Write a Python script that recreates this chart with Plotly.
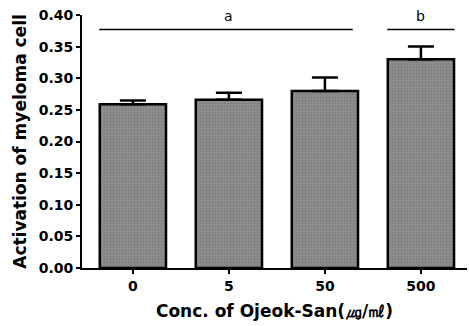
import plotly.graph_objects as go

categories = ["0", "5", "50", "500"]
values = [0.259, 0.266, 0.280, 0.330]
errors = [0.006, 0.011, 0.021, 0.020]
y_ticks = [0.00, 0.05, 0.10, 0.15, 0.20, 0.25, 0.30, 0.35, 0.40]
sig_labels = ["a", "b"]
sig_start = [0, 3]
sig_end = [2, 3]
sig_line_y = 0.377
sig_text_y = 0.399

x_idx = list(range(len(categories)))
FONT = "DejaVu Sans, Liberation Sans, Arial, sans-serif"

fig = go.Figure()
fig.add_trace(go.Bar(
    x=x_idx, y=values, width=0.69,
    marker=dict(color="#858585", line=dict(color="black", width=2.5),
                pattern=dict(shape=".", size=3, solidity=0.35, fgcolor="#5e5e5e", bgcolor="#909090")),
    error_y=dict(type="data", array=errors, symmetric=False, arrayminus=[0]*4,
                 color="black", thickness=2.5, width=13),
    showlegend=False,
))

shapes = []
annotations = []
for lab, s, e in zip(sig_labels, sig_start, sig_end):
    x0 = s - 0.35
    x1 = e + 0.29 if e != s else e + 0.35
    shapes.append(dict(type="line", xref="x", yref="y", x0=x0, x1=x1,
                       y0=sig_line_y, y1=sig_line_y, line=dict(color="black", width=1.5)))
    annotations.append(dict(x=(s + e) / 2, y=sig_text_y, xref="x", yref="y", text=lab,
                            showarrow=False, font=dict(family=FONT, size=14, color="black"),
                            yanchor="middle"))

fig.update_layout(
    width=469, height=326,
    margin=dict(l=82, r=2, t=15, b=58),
    paper_bgcolor="white", plot_bgcolor="white",
    shapes=shapes, annotations=annotations,
    xaxis=dict(
        tickmode="array", tickvals=x_idx, ticktext=categories,
        range=[-0.53, 3.48], automargin=False,
        showline=True, linecolor="black", linewidth=2,
        ticks="outside", ticklen=4, tickwidth=2, tickcolor="black",
        tickfont=dict(family=FONT, size=14, color="black", weight="bold"),
        title=dict(text="Conc. of Ojeok-San(㎍/㎖)", standoff=12,
                   font=dict(family=FONT, size=17, color="black", weight="bold")),
        showgrid=False, zeroline=False, fixedrange=True,
    ),
    yaxis=dict(
        range=[0, 0.4], tickmode="array", tickvals=y_ticks, automargin=False,
        ticktext=[f"{v:.2f}" for v in y_ticks],
        showline=True, linecolor="black", linewidth=2,
        ticks="outside", ticklen=4, tickwidth=2, tickcolor="black",
        tickfont=dict(family=FONT, size=14, color="black", weight="bold"),
        title=dict(text="Activation of myeloma cell", standoff=8,
                   font=dict(family=FONT, size=17, color="black", weight="bold")),
        showgrid=False, zeroline=False, fixedrange=True,
    ),
)

fig.write_html("out.html", config={"displayModeBar": False},
               post_script="document.body.style.margin='0';document.body.style.overflow='hidden';")
